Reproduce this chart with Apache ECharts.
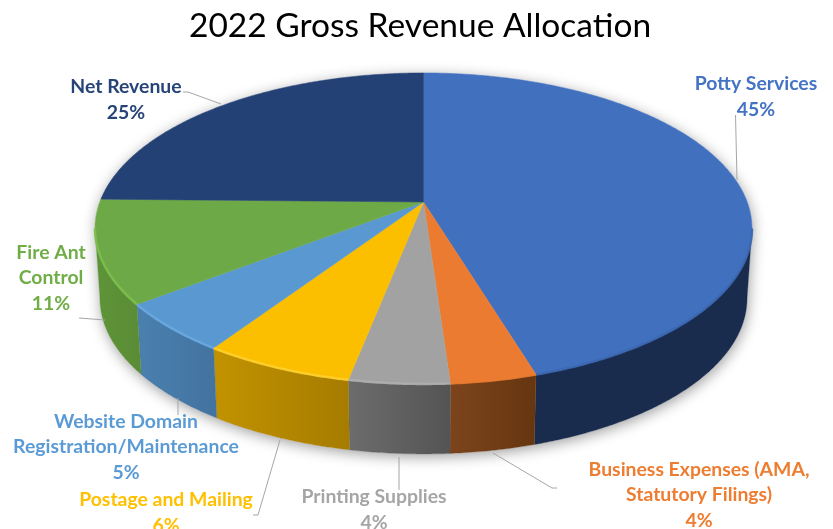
<!DOCTYPE html>
<html>
<head>
<meta charset="utf-8">
<style>html,body{margin:0;padding:0;background:#fff}#c{width:833px;height:529px}</style>
<script src="https://cdn.jsdelivr.net/npm/echarts@6/dist/echarts.min.js"></script>
</head>
<body>
<div id="c"></div>
<script>
const titleText = '2022 Gross Revenue Allocation';
const categories = ['Potty Services', 'Business Expenses (AMA,\nStatutory Filings)', 'Printing Supplies', 'Postage and Mailing', 'Website Domain\nRegistration/Maintenance', 'Fire Ant\nControl', 'Net Revenue'];
const values = [45.3, 3.6, 4.2, 6.3, 5.2, 10.7, 24.7];
const topColors = ['#4170BF', '#EA7B30', '#A2A2A2', '#FBBF00', '#5A98D2', '#6DA946', '#244175'];
const labelColors = ['#4472C4', '#ED7D31', '#A5A5A5', '#FFC000', '#5B9BD5', '#70AD47', '#264478'];
const wallLeft = ['#1A2C4E', '#7C441C', '#6C6C6C', '#C29200', '#4A80AF', '#5E9438', '#1A2C4E'];
const wallRight = ['#1A2C4E', '#653610', '#545454', '#A67C00', '#43739F', '#5A8C36', '#1A2C4E'];
const rimColors = ['#3C68B2', '#EA7B30', '#AFAFAF', '#FFD02E', '#69A9E0', '#7CC04E', '#244175'];
const labelCenters = [[756, 97], [699, 495], [374, 510], [166, 513], [126, 447], [51, 278], [126, 99.5]];
const leaderLines = [
  [[735.5, 115], [737, 180]],
  [[493, 453], [552, 488], [557, 488]],
  [[399, 457], [399, 490]],
  [[280, 440], [258, 515], [253, 515]],
  [[178, 398], [178, 415]],
  [[105, 320], [79, 318]],
  [[221, 104], [188, 92], [183, 92]]
];

const CX = 423.5, CY = 202, A = 323.7, B = 151, P = 0.17, DEPTH = 70, SHRINK = 0.985;
const FRONT0 = 90 + Math.asin(P) * 180 / Math.PI, FRONT1 = 360 - FRONT0;
function pt(deg, lower) {
  const t = deg * Math.PI / 180, u = Math.sin(t), v = Math.cos(t), s = 1 / (1 + P * v);
  const x = A * u * s, y = -B * v * s;
  return lower ? [CX + x * SHRINK, CY + y + DEPTH] : [CX + x, CY + y];
}
function arc(a0, a1, lower) {
  const out = [], n = Math.max(2, Math.ceil(Math.abs(a1 - a0) * 2));
  for (let i = 0; i <= n; i++) out.push(pt(a0 + (a1 - a0) * i / n, lower));
  return out;
}
const total = values.reduce((a, b) => a + b, 0);
function sweep(i) {
  let sum = 0;
  for (let k = 0; k < i; k++) sum += values[k];
  return [sum / total * 360, (sum + values[i]) / total * 360];
}
const renderItem = function (params, api) {
  const i = params.dataIndex, val = api.value(0), [a0, a1] = sweep(i);
  const kids = [];
  if (i === 0) {
    kids.push({
      type: 'polygon', z2: 0, shape: { points: arc(FRONT0, FRONT1, true).concat(arc(FRONT1, FRONT0 + 360, false)) },
      style: { fill: '#fff', shadowColor: 'rgba(0,0,0,0.38)', shadowBlur: 14, shadowOffsetY: 3, shadowOffsetX: 1 }
    });
  }
  const top = arc(a0, a1, false);
  const f0 = Math.max(a0, FRONT0), f1 = Math.min(a1, FRONT1);
  if (f1 > f0) {
    const wallTop = arc(f0, f1, false);
    const low = arc(f0, f1, true).reverse();
    kids.push({
      type: 'polygon', z2: 1, shape: { points: wallTop.concat(low) },
      style: {
        fill: new echarts.graphic.LinearGradient(0, 0, 1, 0, [
          { offset: 0, color: wallLeft[i] }, { offset: 1, color: wallRight[i] }
        ]),
        stroke: wallRight[i], lineWidth: 0.3
      }
    });
    kids.push({
      type: 'polyline', z2: 3, shape: { points: wallTop },
      style: { fill: null, stroke: rimColors[i], lineWidth: 2.5, opacity: 0.9 }
    });
  }
  kids.push({
    type: 'polygon', z2: 2, shape: { points: [[CX, CY]].concat(top) },
    style: { fill: topColors[i], stroke: topColors[i], lineWidth: 0.5 }
  });
  kids.push({
    type: 'polyline', z2: 4, shape: { points: leaderLines[i] },
    style: { fill: null, stroke: '#A6A6A6', lineWidth: 1 }
  });
  kids.push({
    type: 'text', z2: 5,
    style: {
      text: categories[i] + '\n' + Math.round(val) + '%',
      x: labelCenters[i][0], y: labelCenters[i][1],
      align: 'center', verticalAlign: 'middle',
      fill: labelColors[i], font: 'bold 19.4px Lato', lineHeight: 25.7
    }
  });
  return { type: 'group', children: kids };
};
const chart = echarts.init(document.getElementById('c'), null, { renderer: 'canvas' });
chart.setOption({
  animation: false,
  backgroundColor: '#fff',
  title: {
    text: titleText, left: 184, top: 4,
    textStyle: { fontFamily: 'Lato', fontWeight: 'normal', fontSize: 33.5, color: '#000' }
  },
  series: [{
    type: 'custom', coordinateSystem: 'none', silent: true, clip: false,
    renderItem, data: values.map(v => [v])
  }]
});
</script>
</body>
</html>
